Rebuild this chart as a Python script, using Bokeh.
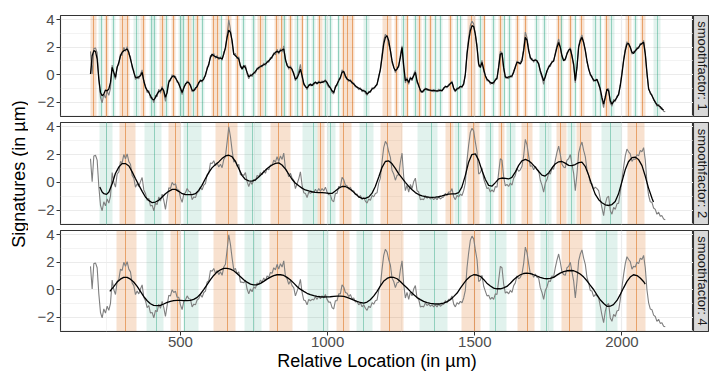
import math
from bokeh.plotting import figure
from bokeh.layouts import row, column
from bokeh.models import Range1d, FixedTicker, ColumnDataSource
from bokeh.embed import file_html
from bokeh.resources import INLINE
from bokeh.core.properties import value

FONT = "Liberation Sans"
ORANGE = "#D95F02"
GREEN = "#1B9E77"

# ---------------- data ----------------
x_ticks = [500, 1000, 1500, 2000]
x_tick_labels = ["500", "1000", "1500", "2000"]
x_minor = [250, 750, 1250, 1750, 2250]
y_ticks = [-2, 0, 2, 4]
y_tick_labels = ["\u22122", "0", "2", "4"]
y_minor = [-3, -1, 1, 3]
strip_labels = ["smoothfactor: 1", "smoothfactor: 2", "smoothfactor: 4"]
x_title = "Relative Location (in \u00b5m)"
y_title = "Signatures (in \u00b5m)"

# raw signature (grey), sampled every 5.66 um from 194.4 um
raw_start = 194.4
raw_step = 5.66
raw = [1.70, 0.05, 1.90, 1.95, 1.60, -0.30, -1.66, -2.05, -1.40, -1.70,
       -1.20, -1.50, -1.00, 0.70, 0.00, -0.35, 0.60, 0.75, 1.50, 1.40,
       2.00, 1.70, 2.05, 1.50, 1.30, 0.50, 0.30, -0.35, -0.10, -0.30,
       0.05, 0.35, -0.55, -0.80, -1.30, -1.15, -1.70, -1.65, -2.05, -1.50,
       -1.60, -1.05, -1.35, -0.85, -1.30, -1.95, -1.15, -0.40, -0.45, 0.00,
       -0.20, -0.10, -0.55, -0.55, -1.10, -1.45, -0.85, -0.75, -0.45, -0.65,
       -0.70, -1.25, -1.05, -1.10, -0.75, -0.65, -0.35, -0.55, -0.20, -0.10,
       0.55, 0.65, 1.40, 1.35, 1.55, 1.20, 1.40, 1.10, 1.30, 1.05,
       1.65, 1.85, 2.90, 4.00, 3.30, 2.30, 1.45, 1.55, 1.15, 1.30,
       0.55, 0.55, 0.50, 0.70, 0.05, -0.30, 0.05, -0.15, 0.20, 0.10,
       0.50, 0.40, 0.70, 0.55, 0.85, 0.65, 1.00, 0.90, 1.25, 1.20,
       1.60, 1.45, 1.85, 1.50, 1.90, 1.65, 2.10, 1.00, 0.80, 0.40,
       0.65, 0.30, 0.15, -0.45, -0.10, 0.25, 0.75, -0.20, -0.75, -0.80,
       -1.10, -0.70, -0.80, -0.70, -0.75, -0.50, -0.70, -0.45, -0.65, -0.45,
       -0.60, -0.35, -0.70, -0.90, -0.90, -1.30, -1.40, -0.80, -0.80, -0.30,
       -0.30, 0.35, 0.20, -0.20, -0.25, -0.50, -0.35, -0.65, -0.60, -0.90,
       -0.85, -1.10, -0.95, -1.25, -1.10, -1.35, -1.50, -1.20, -1.30, -0.95,
       -1.05, -0.80, -0.75, -0.05, 0.30, 1.50, 2.50, 2.95, 2.75, 2.20,
       1.80, 0.85, 0.60, 0.15, 0.50, 0.55, 1.45, 2.10, 0.40, -0.60,
       -0.20, -0.70, -0.15, -0.45, 0.05, 0.30, -0.60, -0.70, -1.25, -1.20,
       -1.25, -0.95, -1.15, -1.05, -1.20, -1.10, -1.25, -1.10, -1.25, -1.05,
       -1.20, -1.10, -1.05, -0.80, -0.95, -0.70, -0.70, -0.45, -1.05, -1.25,
       -0.95, -1.05, -0.85, -0.95, -0.60, -0.05, 1.60, 2.70, 3.60, 3.90,
       3.70, 2.90, 2.20, 0.60, 0.70, 1.05, 0.25, -0.10, -0.45, -0.40,
       -0.70, -0.55, -0.70, -0.30, -0.35, 0.70, 1.70, 1.60, 0.40, -0.25,
       -0.15, -0.30, -0.05, -0.20, 0.30, 0.50, 1.00, 0.80, 0.90, 1.15,
       1.90, 3.10, 2.70, 1.90, 1.15, 1.20, 0.90, 1.15, 0.90, 0.85,
       0.15, -0.20, -0.70, -0.05, 0.20, 0.65, 0.60, 1.00, 0.95, 1.60,
       2.15, 2.60, 2.00, 1.30, 1.10, 1.05, 1.60, 1.70, 2.00, 1.30,
       0.65, -0.60, 0.60, 2.10, 2.60, 2.90, 2.30, 1.85, 0.90, 0.50,
       -0.05, -0.10, -0.50, -0.35, -0.45, -0.60, -1.20, -1.85, -2.40, -1.55,
       -1.10, -1.00, -2.05, -2.30, -1.80, -1.95, -1.55, -1.50, -0.70, 0.20,
       1.10, 1.90, 2.40, 2.20, 2.05, 1.50, 1.70, 1.65, 2.00, 1.90,
       2.30, 2.20, 2.50, 1.60, 0.00, -0.95, -1.40, -1.45, -1.85, -1.95,
       -2.30, -2.15, -2.45, -2.40, -2.65, -2.70]

# smoothfactor 1 (same sampling as raw)
sf1 = [0.05, 1.38, 1.75, 1.70, 1.14, -0.32, -1.29, -1.53, -1.41, -1.12,
       -1.17, -1.04, -0.56, 0.53, 0.17, -0.19, 0.53, 0.90, 1.38, 1.63,
       1.75, 1.80, 1.87, 1.63, 1.14, 0.66, 0.17, -0.19, -0.24, -0.15,
       -0.07, 0.17, -0.44, -0.92, -1.12, -1.29, -1.53, -1.77, -1.84, -1.65,
       -1.41, -1.21, -1.17, -0.97, -1.17, -1.65, -1.29, -0.56, -0.32, -0.15,
       -0.07, -0.24, -0.44, -0.68, -0.97, -1.29, -0.97, -0.68, -0.56, -0.56,
       -0.80, -1.12, -1.17, -0.97, -0.87, -0.56, -0.44, -0.44, -0.32, 0.00,
       0.41, 0.78, 1.26, 1.50, 1.38, 1.31, 1.26, 1.21, 1.21, 1.14,
       1.50, 1.99, 2.72, 3.25, 3.08, 2.48, 1.50, 1.38, 1.26, 1.14,
       0.66, 0.41, 0.66, 0.53, 0.17, -0.15, -0.07, 0.00, 0.10, 0.24,
       0.41, 0.53, 0.58, 0.66, 0.73, 0.78, 0.90, 1.02, 1.14, 1.31,
       1.50, 1.63, 1.70, 1.63, 1.75, 1.80, 1.87, 1.14, 0.66, 0.53,
       0.53, 0.41, 0.05, -0.32, -0.24, 0.05, 0.41, -0.07, -0.63, -0.87,
       -0.97, -0.80, -0.68, -0.80, -0.63, -0.56, -0.63, -0.56, -0.56, -0.56,
       -0.49, -0.44, -0.56, -0.80, -0.97, -1.17, -1.29, -0.92, -0.68, -0.44,
       -0.19, 0.17, 0.24, -0.07, -0.32, -0.39, -0.44, -0.56, -0.68, -0.80,
       -0.92, -0.97, -1.04, -1.12, -1.17, -1.21, -1.41, -1.29, -1.21, -1.04,
       -0.97, -0.87, -0.68, -0.19, 0.41, 1.26, 2.23, 2.72, 2.84, 2.48,
       1.75, 1.02, 0.53, 0.29, 0.41, 0.66, 1.26, 1.99, 0.66, -0.44,
       -0.32, -0.56, -0.24, -0.32, -0.07, 0.17, -0.44, -0.80, -1.12, -1.29,
       -1.12, -1.04, -1.04, -1.12, -1.12, -1.17, -1.12, -1.17, -1.17, -1.17,
       -1.12, -1.17, -0.97, -0.87, -0.87, -0.80, -0.63, -0.56, -0.97, -1.17,
       -1.04, -0.97, -0.85, -0.87, -0.68, 0.05, 1.50, 2.48, 3.20, 3.57,
       3.50, 2.96, 1.99, 0.78, 0.53, 0.90, 0.41, -0.07, -0.32, -0.44,
       -0.56, -0.63, -0.56, -0.39, -0.24, 0.53, 1.50, 1.55, 0.53, -0.15,
       -0.24, -0.15, -0.15, -0.07, 0.17, 0.58, 0.90, 0.90, 0.78, 1.02,
       1.75, 2.72, 2.52, 1.75, 1.26, 1.07, 1.02, 1.07, 1.02, 0.78,
       0.29, -0.07, -0.44, -0.15, 0.29, 0.53, 0.73, 0.90, 1.02, 1.50,
       1.99, 2.35, 1.99, 1.38, 1.02, 1.14, 1.50, 1.80, 1.87, 1.38,
       0.78, -0.44, 0.53, 1.99, 2.48, 2.72, 2.35, 1.75, 1.02, 0.41,
       0.05, -0.19, -0.39, -0.44, -0.32, -0.68, -1.04, -1.65, -2.14, -1.65,
       -1.04, -1.17, -1.90, -2.14, -1.94, -1.84, -1.65, -1.41, -0.80, 0.05,
       1.02, 1.75, 2.23, 2.28, 1.99, 1.63, 1.55, 1.75, 1.87, 1.99,
       2.18, 2.28, 2.35, 1.50, 0.17, -1.04, -1.29, -1.53, -1.77, -2.01,
       -2.18, -2.26, -2.33, -2.50, -2.57]

# smoothfactor 2
sf2_x = [226, 234, 240, 249, 257, 268, 279, 291, 302, 313, 325, 336, 347, 359, 370,
         381, 392, 404, 415, 426, 438, 449, 460, 472, 483, 494, 506, 517, 528, 540,
         551, 562, 573, 585, 596, 607, 619, 630, 641, 653, 664, 675, 687, 698, 709,
         720, 732, 743, 755, 766, 777, 789, 800, 811, 823, 834, 845, 857, 868, 879,
         890, 902, 913, 924, 936, 947, 958, 970, 981, 992, 1004, 1015, 1026, 1038, 1049,
         1060, 1072, 1083, 1094, 1106, 1117, 1128, 1140, 1151, 1162, 1174, 1185, 1196, 1207, 1219,
         1230, 1241, 1253, 1264, 1275, 1287, 1298, 1309, 1321, 1332, 1343, 1355, 1366, 1377, 1389,
         1400, 1411, 1423, 1434, 1445, 1456, 1468, 1479, 1490, 1502, 1513, 1524, 1536, 1547, 1558,
         1570, 1581, 1592, 1604, 1615, 1626, 1638, 1649, 1660, 1672, 1683, 1694, 1706, 1717, 1728,
         1739, 1751, 1762, 1773, 1785, 1796, 1807, 1819, 1830, 1841, 1853, 1864, 1875, 1887, 1898,
         1909, 1921, 1932, 1943, 1955, 1966, 1977, 1988, 2000, 2011, 2022, 2034, 2045, 2056, 2068,
         2079, 2090, 2102, 2107]
sf2_y = [-0.34, -0.70, -0.82, -0.87, -0.70, -0.10, 0.63, 1.11, 1.35, 1.35, 1.18, 0.75, 0.27, -0.22, -0.65,
         -1.06, -1.30, -1.47, -1.42, -1.30, -1.06, -0.82, -0.65, -0.51, -0.51, -0.65, -0.82, -0.89, -0.89, -0.89,
         -0.82, -0.58, -0.22, 0.27, 0.70, 1.04, 1.28, 1.47, 1.71, 1.90, 1.95, 1.85, 1.50, 1.00, 0.50,
         0.22, 0.10, 0.08, 0.18, 0.38, 0.62, 0.88, 1.08, 1.25, 1.37, 1.40, 1.25, 0.95, 0.58, 0.22,
         -0.05, -0.25, -0.42, -0.55, -0.62, -0.68, -0.72, -0.75, -0.75, -0.76, -0.80, -0.80, -0.62, -0.42, -0.30,
         -0.30, -0.42, -0.60, -0.82, -1.05, -1.16, -1.16, -1.05, -0.78, -0.30, 0.40, 1.08, 1.50, 1.55, 1.33,
         1.00, 0.63, 0.30, 0.00, -0.28, -0.53, -0.74, -0.88, -0.98, -1.04, -1.07, -1.08, -1.07, -1.04, -0.98,
         -0.90, -0.85, -0.83, -0.84, -0.75, -0.35, 0.50, 1.45, 2.00, 2.05, 1.60, 0.87, 0.20, -0.22, -0.28,
         -0.02, 0.25, 0.31, 0.29, 0.24, 0.35, 0.75, 1.22, 1.55, 1.65, 1.55, 1.35, 1.08, 0.78, 0.52,
         0.45, 0.68, 1.03, 1.32, 1.48, 1.50, 1.38, 1.22, 1.20, 1.28, 1.42, 1.45, 1.15, 0.50, -0.22,
         -0.85, -1.25, -1.47, -1.62, -1.67, -1.60, -1.38, -0.85, 0.05, 0.90, 1.48, 1.78, 1.82, 1.65, 1.20,
         0.45, -0.40, -1.15, -1.42]

# smoothfactor 4
sf4_x = [260, 274, 285, 296, 307, 319, 330, 341, 353, 364, 375, 387, 398, 409, 421,
         432, 443, 455, 466, 477, 489, 500, 511, 523, 534, 545, 557, 568, 579, 590,
         602, 613, 624, 636, 647, 658, 670, 681, 692, 704, 715, 726, 738, 749, 760,
         772, 783, 794, 806, 817, 828, 840, 851, 862, 873, 885, 896, 907, 919, 930,
         941, 953, 964, 975, 987, 998, 1009, 1021, 1032, 1043, 1055, 1066, 1077, 1089, 1100,
         1111, 1123, 1134, 1145, 1157, 1168, 1179, 1190, 1202, 1213, 1224, 1236, 1247, 1258, 1270,
         1281, 1292, 1304, 1315, 1326, 1338, 1349, 1360, 1372, 1383, 1394, 1406, 1417, 1428, 1440,
         1451, 1462, 1473, 1485, 1496, 1507, 1519, 1530, 1541, 1553, 1564, 1575, 1587, 1598, 1609,
         1621, 1632, 1643, 1655, 1666, 1677, 1689, 1700, 1711, 1722, 1734, 1745, 1756, 1768, 1779,
         1790, 1802, 1813, 1824, 1836, 1847, 1858, 1870, 1881, 1892, 1904, 1915, 1926, 1938, 1949,
         1960, 1971, 1983, 1994, 2005, 2017, 2028, 2039, 2051, 2062, 2073, 2079]
sf4_y = [-0.12, 0.24, 0.56, 0.77, 0.90, 0.90, 0.77, 0.56, 0.24, -0.12, -0.48, -0.80, -1.02, -1.14, -1.16,
         -1.14, -1.04, -0.92, -0.85, -0.80, -0.77, -0.77, -0.80, -0.80, -0.77, -0.70, -0.56, -0.31, 0.00, 0.36,
         0.73, 1.04, 1.28, 1.45, 1.55, 1.55, 1.50, 1.38, 1.18, 0.95, 0.73, 0.55, 0.41, 0.35, 0.36,
         0.46, 0.61, 0.77, 0.92, 1.03, 1.09, 1.09, 1.04, 0.90, 0.73, 0.48, 0.24, 0.04, -0.12, -0.26,
         -0.36, -0.43, -0.48, -0.51, -0.53, -0.52, -0.51, -0.48, -0.46, -0.46, -0.48, -0.56, -0.65, -0.76, -0.85,
         -0.93, -0.97, -0.90, -0.73, -0.45, -0.12, 0.27, 0.61, 0.82, 0.92, 0.90, 0.80, 0.60, 0.36, 0.12,
         -0.12, -0.35, -0.56, -0.72, -0.85, -0.94, -0.99, -1.02, -1.04, -1.02, -0.97, -0.87, -0.73, -0.50, -0.24,
         0.12, 0.45, 0.75, 0.98, 1.09, 1.07, 0.97, 0.75, 0.48, 0.27, 0.12, 0.07, 0.07, 0.13, 0.24,
         0.47, 0.73, 0.93, 1.09, 1.18, 1.21, 1.17, 1.09, 1.00, 0.90, 0.83, 0.80, 0.83, 0.90, 1.06,
         1.21, 1.32, 1.38, 1.40, 1.38, 1.28, 1.14, 0.92, 0.65, 0.33, 0.00, -0.38, -0.73, -1.00, -1.21,
         -1.20, -1.09, -0.78, -0.36, 0.12, 0.61, 0.92, 1.09, 1.03, 0.85, 0.60, 0.41]

# panel 1 bands: centre, width, kind (o = orange, g = green)
p1_center = [206, 231, 249, 274, 302, 319, 351, 373, 401, 412, 438, 452, 477, 500, 509,
             528, 545, 557, 574, 613, 625, 638, 664, 694, 715, 747, 772, 789, 828, 845,
             853, 874, 896, 913, 932, 951, 973, 992, 1009, 1038, 1055, 1068, 1083, 1132, 1202,
             1234, 1258, 1270, 1298, 1313, 1332, 1349, 1366, 1383, 1417, 1440, 1453, 1490, 1519, 1532,
             1564, 1587, 1600, 1618, 1646, 1672, 1711, 1736, 1785, 1796, 1824, 1841, 1864, 1909, 1926,
             1949, 1966, 2022, 2045, 2071, 2119]
p1_width = [20, 17, 15, 14, 17, 15, 18, 17, 15, 15, 19, 15, 15, 14, 14,
            16, 12, 14, 14, 14, 14, 12, 20, 12, 14, 14, 18, 12, 16, 12,
            12, 14, 16, 12, 14, 14, 16, 12, 14, 12, 14, 12, 16, 18, 30,
            14, 12, 12, 14, 12, 14, 12, 14, 12, 14, 12, 10, 28, 12, 12,
            14, 14, 10, 12, 14, 16, 16, 14, 18, 10, 14, 12, 18, 16, 12,
            14, 14, 20, 14, 18, 22]
p1_kind = ["o", "g", "o", "g", "o", "o", "g", "o", "g", "g", "o", "g", "o", "g", "g",
           "o", "g", "o", "g", "o", "o", "g", "o", "o", "g", "g", "o", "g", "o", "o",
           "g", "o", "g", "o", "g", "g", "o", "g", "g", "g", "o", "o", "o", "g", "o",
           "o", "g", "o", "g", "o", "g", "o", "g", "g", "o", "g", "g", "o", "g", "o",
           "g", "o", "g", "g", "o", "o", "g", "g", "o", "g", "o", "g", "o", "g", "g",
           "o", "g", "o", "g", "o", "g"]

# panel 2 bands: start, end, marker line, kind
p2_start = [225, 293, 379, 460, 509, 619, 717, 806, 913, 966, 998, 1040, 1109, 1181,
            1306, 1400, 1430, 1476, 1536, 1581, 1609, 1660, 1720, 1777, 1815, 1845, 1929, 2020]
p2_end = [268, 347, 434, 500, 570, 693, 774, 874, 966, 989, 1026, 1080, 1156, 1253,
          1374, 1426, 1456, 1516, 1564, 1601, 1638, 1697, 1760, 1811, 1842, 1895, 1997, 2076]
p2_line = [249, 314, 412, 482, 525, 664, 745, 834, 951, 975, 1009, 1055, 1132, 1204,
           1354, 1417, 1446, 1496, 1553, 1591, 1621, 1679, 1739, 1790, 1829, 1860, 1962, 2048]
p2_kind = ["g", "o", "g", "o", "g", "o", "g", "o", "g", "o", "g", "o", "g", "o",
           "g", "o", "g", "o", "g", "o", "g", "o", "g", "o", "g", "o", "g", "o"]

# panel 3 bands
p3_start = [282, 383, 466, 509, 611, 717, 803, 932, 1030, 1098, 1181, 1313, 1456, 1550,
            1645, 1722, 1796, 1909, 2017]
p3_end = [349, 441, 500, 561, 687, 774, 879, 1004, 1073, 1151, 1258, 1408, 1521, 1607,
          1702, 1768, 1866, 1985, 2079]
p3_line = [315, 417, 489, 515, 659, 749, 830, 987, 1055, 1123, 1211, 1362, 1498, 1570,
           1679, 1743, 1821, 1949, 2048]
p3_kind = ["o", "g", "o", "g", "o", "g", "o", "g", "o", "g", "o", "g", "o", "g",
           "o", "g", "o", "g", "o"]

# ---------------- drawing ----------------
raw_x = [raw_start + raw_step * i for i in range(len(raw))]
sf1_x = [raw_start + raw_step * i for i in range(len(sf1))]

X_RANGE = (92.5, 2243.0)
Y_RANGE = (-3.04, 4.31)
PANEL_W = 665
STRIP_W = 16
LEFT = 32


def make_panel(height, top, bottom, x0, x1, lines, kinds, sx, sy, with_axis):
    p = figure(width=PANEL_W, height=height,
               x_range=Range1d(*X_RANGE), y_range=Range1d(*Y_RANGE),
               output_backend="svg", toolbar_location=None,
               x_axis_location="below" if with_axis else None,
               min_border_left=LEFT, min_border_right=0,
               min_border_top=top, min_border_bottom=bottom)
    p.background_fill_color = "white"
    p.border_fill_color = "white"
    p.outline_line_color = "#333333"
    p.outline_line_width = 1.1

    cols = [ORANGE if k == "o" else GREEN for k in kinds]
    falpha = [0.19 if k == "o" else 0.13 for k in kinds]
    lalpha = [0.55 if k == "o" else 0.45 for k in kinds]
    src = ColumnDataSource(dict(x0=x0, x1=x1, xl=lines, color=cols, fa=falpha, la=lalpha))
    p.vstrip(x0="x0", x1="x1", source=src, fill_color="color",
             fill_alpha="fa", line_color=None)
    p.vspan(x="xl", source=src, line_color="color", line_alpha="la", line_width=0.9)

    p.line(raw_x, raw, line_color="#7F7F7F", line_width=1.1)
    p.line(sx, sy, line_color="black", line_width=1.3)

    # grids
    p.xgrid.ticker = FixedTicker(ticks=x_ticks, minor_ticks=x_minor)
    p.ygrid.ticker = FixedTicker(ticks=y_ticks, minor_ticks=y_minor)
    for g in (p.xgrid, p.ygrid):
        g.grid_line_color = "#EBEBEB"
        g.grid_line_width = 1.2
        g.minor_grid_line_color = "#EBEBEB"
        g.minor_grid_line_width = 0.6

    # y axis
    ya = p.yaxis[0]
    ya.ticker = FixedTicker(ticks=y_ticks, minor_ticks=y_minor)
    ya.major_label_overrides = dict(zip(y_ticks, y_tick_labels))
    ya.major_label_text_font = FONT
    ya.major_label_text_font_size = "15px"
    ya.major_label_text_color = "#4D4D4D"
    ya.major_label_standoff = 2
    ya.major_tick_out = 4
    ya.major_tick_in = 0
    ya.minor_tick_out = 0
    ya.minor_tick_in = 0
    ya.major_tick_line_color = "#333333"
    ya.axis_line_color = None

    if with_axis:
        xa = p.xaxis[0]
        xa.ticker = FixedTicker(ticks=x_ticks, minor_ticks=x_minor)
        xa.major_label_overrides = dict(zip(x_ticks, x_tick_labels))
        xa.major_label_text_font = FONT
        xa.major_label_text_font_size = "15px"
        xa.major_label_text_color = "#4D4D4D"
        xa.major_label_standoff = 1
        xa.major_tick_out = 4
        xa.major_tick_in = 0
        xa.minor_tick_out = 0
        xa.minor_tick_in = 0
        xa.major_tick_line_color = "#333333"
        xa.axis_line_color = None
        xa.axis_label = x_title
        xa.axis_label_text_font = FONT
        xa.axis_label_text_font_size = "18px"
        xa.axis_label_text_font_style = "normal"
        xa.axis_label_text_color = "black"
        xa.axis_label_standoff = 1
    return p


def make_strip(height, top, bottom, label):
    fh = height - top - bottom
    s = figure(width=STRIP_W, height=height,
               x_range=Range1d(0, STRIP_W), y_range=Range1d(0, fh),
               output_backend="svg", toolbar_location=None,
               x_axis_location=None, y_axis_location=None,
               min_border_left=0, min_border_right=0,
               min_border_top=top, min_border_bottom=bottom)
    s.background_fill_color = "#D9D9D9"
    s.border_fill_color = "white"
    s.outline_line_color = "#333333"
    s.outline_line_width = 1.1
    s.grid.visible = False
    s.text(x=[8.6], y=[fh / 2], text=[label], angle=-math.pi / 2,
           text_align="center", text_baseline="middle",
           text_font=value(FONT), text_font_size="13px", text_color="#1A1A1A")
    return s


H1, T1, B1 = 119, 15, 3
H2, T2, B2 = 108, 3, 3
H3, T3, B3 = 146, 3, 41

p1_x0 = [c - w / 2 for c, w in zip(p1_center, p1_width)]
p1_x1 = [c + w / 2 for c, w in zip(p1_center, p1_width)]

p1 = make_panel(H1, T1, B1, p1_x0, p1_x1, p1_center, p1_kind, sf1_x, sf1, False)
p2 = make_panel(H2, T2, B2, p2_start, p2_end, p2_line, p2_kind, sf2_x, sf2_y, False)
p3 = make_panel(H3, T3, B3, p3_start, p3_end, p3_line, p3_kind, sf4_x, sf4_y, True)

s1 = make_strip(H1, T1, B1, strip_labels[0])
s2 = make_strip(H2, T2, B2, strip_labels[1])
s3 = make_strip(H3, T3, B3, strip_labels[2])

TOTAL_H = H1 + H2 + H3
yl = figure(width=709 - PANEL_W - STRIP_W, height=TOTAL_H,
            x_range=Range1d(0, 709 - PANEL_W - STRIP_W), y_range=Range1d(0, TOTAL_H),
            output_backend="svg", toolbar_location=None,
            x_axis_location=None, y_axis_location=None,
            min_border_left=0, min_border_right=0, min_border_top=0, min_border_bottom=0)
yl.outline_line_color = None
yl.grid.visible = False
yl.text(x=[18], y=[TOTAL_H - 173.5], text=[y_title], angle=math.pi / 2,
        text_align="center", text_baseline="middle",
        text_font=value(FONT), text_font_size="18px", text_color="black")

layout = row(yl, column(row(p1, s1), row(p2, s2), row(p3, s3)))

open("out.html", "w").write(file_html(layout, INLINE))
